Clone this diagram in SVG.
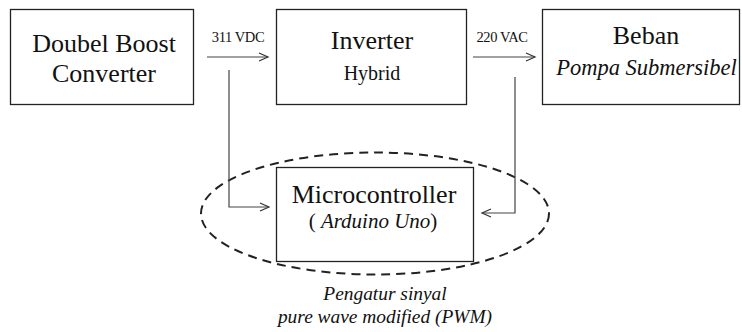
<svg xmlns="http://www.w3.org/2000/svg" width="742" height="332" viewBox="0 0 742 332">
<defs>
<marker id="arr" markerWidth="12" markerHeight="10" refX="10" refY="5" orient="auto" markerUnits="userSpaceOnUse">
<path d="M1,1 L10,5 L1,9" fill="none" stroke="#333" stroke-width="1.2"/>
</marker>
<style>
.box{fill:#fff;stroke:#222;stroke-width:1.3}
.t{font-family:"Liberation Serif","Times New Roman",serif;fill:#111;text-anchor:middle}
.big{font-size:26px}
.sm{font-size:14.5px;letter-spacing:-0.4px}
.it{font-style:italic}
.line{fill:none;stroke:#444;stroke-width:1.2}
</style>
</defs>
<rect width="742" height="332" fill="#fff"/>
<g id="ellipse">
<ellipse cx="375" cy="213.5" rx="174" ry="61" fill="none" stroke="#222" stroke-width="2" stroke-dasharray="9,6"/>
</g>
<g id="boost">
<rect class="box" x="10.5" y="9.5" width="183" height="95"/>
<text class="t big" x="104" y="52">Doubel Boost</text>
<text class="t big" x="104" y="82">Converter</text>
</g>
<g id="inverter">
<rect class="box" x="276.5" y="9.5" width="190" height="95"/>
<text class="t big" x="372" y="49">Inverter</text>
<text class="t" style="font-size:20px" x="372" y="80">Hybrid</text>
</g>
<g id="beban">
<rect class="box" x="542.5" y="9.5" width="197" height="95"/>
<text class="t big" x="646" y="44">Beban</text>
<text class="t it" style="font-size:22.5px" x="646.5" y="75">Pompa Submersibel</text>
</g>
<g id="micro">
<rect class="box" x="276.5" y="167.5" width="197" height="94"/>
<text class="t big" x="374" y="203">Microcontroller</text>
<text class="t" style="font-size:21px" x="373" y="228">( <tspan class="it">Arduino Uno</tspan>)</text>
</g>
<g id="label">
<text class="t it" style="font-size:19.4px" x="385" y="300">Pengatur sinyal</text>
<text class="t it" style="font-size:19.4px" x="385" y="323">pure wave modified (PWM)</text>
</g>
<g id="connectors">
<line class="line" x1="207" y1="57" x2="268" y2="57" marker-end="url(#arr)"/>
<text class="t sm" x="238" y="42">311 VDC</text>
<line class="line" x1="473" y1="57" x2="535" y2="57" marker-end="url(#arr)"/>
<text class="t sm" x="502" y="42">220 VAC</text>
<polyline class="line" points="229,70 229,207 269,207" marker-end="url(#arr)"/>
<polyline class="line" points="515,77 515,213 482,213" marker-end="url(#arr)"/>
</g>
</svg>
